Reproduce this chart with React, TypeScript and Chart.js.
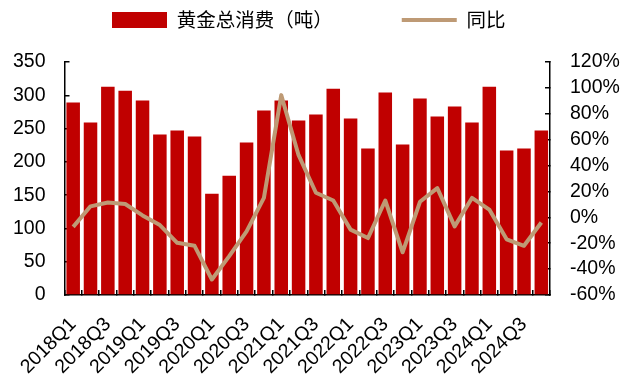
import React, { useEffect, useRef } from "react";
import { Chart, registerables } from "chart.js";

Chart.register(...registerables);

// Quarterly China gold consumption (tonnes) and year-on-year change (%)
const quarters = [
  "2018Q1", "2018Q2", "2018Q3", "2018Q4",
  "2019Q1", "2019Q2", "2019Q3", "2019Q4",
  "2020Q1", "2020Q2", "2020Q3", "2020Q4",
  "2021Q1", "2021Q2", "2021Q3", "2021Q4",
  "2022Q1", "2022Q2", "2022Q3", "2022Q4",
  "2023Q1", "2023Q2", "2023Q3", "2023Q4",
  "2024Q1", "2024Q2", "2024Q3", "2024Q4",
];

const consumption = [
  289, 259, 313, 307,
  292, 241, 247, 238,
  152, 179, 229, 277,
  292, 262, 271, 310,
  265, 220, 304, 226,
  295, 268, 283, 259,
  313, 217, 220, 247,
];

const yoyPct = [
  -7.4, 8.5, 11.5, 10.3,
  1.5, -6, -19.7, -22,
  -48, -30, -10.8, 15,
  94.4, 48, 19, 13,
  -9.5, -16, 13, -27,
  12, 22.6, -7, 15,
  6, -17, -22, -4,
];

const leftTicks = [0, 50, 100, 150, 200, 250, 300, 350];
const rightTicks = [-60, -40, -20, 0, 20, 40, 60, 80, 100, 120];

const seriesNames = ["黄金总消费（吨）", "同比"];

const BAR_COLOR = "#C00000";
const LINE_COLOR = "#BE9A75";
const LATIN_FONT = "'Liberation Sans', Arial, sans-serif";
const CJK_FONT = "'Noto Sans CJK SC', sans-serif";

// Places the legend row above the plot and reserves the header band.
const legendPlacement = {
  id: "legendPlacement",
  beforeInit(chart: any) {
    const legend = chart.legend;
    if (!legend) return;
    const fit = legend.fit;
    legend.fit = function () {
      fit.call(this);
      this.height = 62;
    };
  },
  afterLayout(chart: any) {
    const legend = chart.legend;
    if (!legend) return;
    legend.left = 43;
    legend.right = 625;
    legend.top = -58.75;
    legend.bottom = 62;
  },
};

export default function App() {
  const canvasRef = useRef<HTMLCanvasElement | null>(null);

  useEffect(() => {
    const canvas = canvasRef.current;
    if (!canvas) return;

    const chart = new Chart(canvas, {
      type: "bar",
      data: {
        labels: quarters,
        datasets: [
          {
            type: "bar",
            label: seriesNames[0],
            data: consumption,
            backgroundColor: BAR_COLOR,
            borderWidth: 0,
            barPercentage: 0.78,
            categoryPercentage: 1,
            yAxisID: "y",
            order: 1,
            pointStyle: "rect",
          } as any,
          {
            type: "line",
            label: seriesNames[1],
            data: yoyPct,
            borderColor: LINE_COLOR,
            backgroundColor: LINE_COLOR,
            borderWidth: 4,
            pointRadius: 0,
            pointHoverRadius: 0,
            pointStyle: "line",
            tension: 0,
            borderJoinStyle: "round",
            yAxisID: "y1",
            order: 0,
          } as any,
        ],
      },
      options: {
        responsive: false,
        animation: false,
        events: [],
        layout: { padding: 0 },
        plugins: {
          tooltip: { enabled: false },
          legend: {
            display: true,
            position: "top",
            align: "start",
            labels: {
              usePointStyle: true,
              pointStyleWidth: 55,
              boxHeight: 16,
              padding: 69,
              color: "#000",
              font: { family: CJK_FONT, size: 19.5 },
              sort: (a: any, b: any) => a.datasetIndex - b.datasetIndex,
            },
          },
        },
        scales: {
          x: {
            offset: true,
            grid: {
              display: true,
              offset: true,
              drawOnChartArea: false,
              drawTicks: true,
              tickLength: -5,
              color: "#000",
              lineWidth: 1.5,
            },
            border: { display: true, color: "#000", width: 1.5 },
            ticks: {
              autoSkip: false,
              minRotation: 45,
              maxRotation: 45,
              padding: 23,
              color: "#000",
              font: { family: LATIN_FONT, size: 19.5 },
              callback: (_v: any, i: number) => (i % 2 === 0 ? quarters[i] : ""),
            },
            afterFit: (s: any) => {
              s.height = 84;
            },
          },
          y: {
            position: "left",
            min: leftTicks[0],
            max: leftTicks[leftTicks.length - 1],
            grid: {
              display: true,
              drawOnChartArea: false,
              drawTicks: true,
              tickLength: -5,
              color: "#000",
              lineWidth: 1.5,
            },
            border: { display: true, color: "#000", width: 1.5 },
            ticks: {
              autoSkip: false,
              stepSize: leftTicks[1] - leftTicks[0],
              padding: 24,
              color: "#000",
              font: { family: LATIN_FONT, size: 19.5 },
            },
            afterFit: (s: any) => {
              s.width = 62;
            },
          },
          y1: {
            position: "right",
            min: rightTicks[0],
            max: rightTicks[rightTicks.length - 1],
            grid: {
              display: true,
              drawOnChartArea: false,
              drawTicks: true,
              tickLength: -5,
              color: "#000",
              lineWidth: 1.5,
            },
            border: { display: true, color: "#000", width: 1.5 },
            ticks: {
              autoSkip: false,
              stepSize: rightTicks[1] - rightTicks[0],
              padding: 25,
              color: "#000",
              font: { family: LATIN_FONT, size: 19.5 },
              callback: (v: any) => `${v}%`,
            },
            afterFit: (s: any) => {
              s.width = 75;
            },
          },
        },
      } as any,
      plugins: [legendPlacement],
    });

    return () => chart.destroy();
  }, []);

  return (
    <div style={{ position: "fixed", left: 0, top: 0, width: 625, height: 379, background: "#fff" }}>
      <canvas ref={canvasRef} width={625} height={379} style={{ display: "block" }} />
    </div>
  );
}
